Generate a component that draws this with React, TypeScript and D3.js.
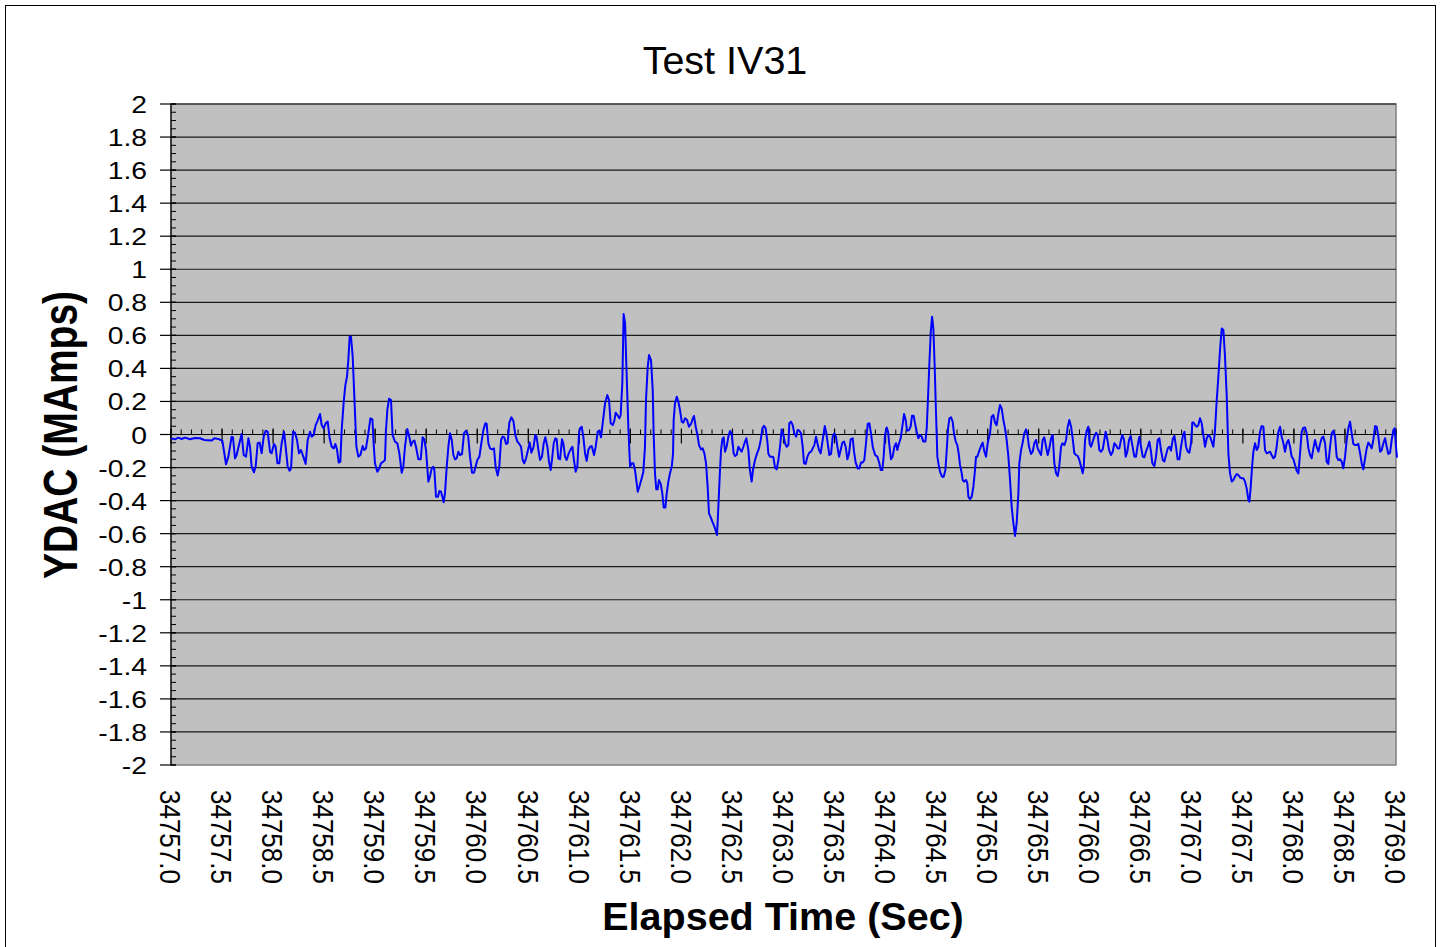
import React from 'react';
import * as d3 from 'd3';

const TITLE = 'Test IV31';
const X_TITLE = 'Elapsed Time (Sec)';
const Y_TITLE = 'YDAC (MAmps)';

const TIME_BASE = 34757;
const X_TICKS = [34757.0, 34757.5, 34758.0, 34758.5, 34759.0, 34759.5, 34760.0, 34760.5, 34761.0, 34761.5, 34762.0, 34762.5, 34763.0, 34763.5, 34764.0, 34764.5, 34765.0, 34765.5, 34766.0, 34766.5, 34767.0, 34767.5, 34768.0, 34768.5, 34769.0];
const Y_TICKS = [2, 1.8, 1.6, 1.4, 1.2, 1, 0.8, 0.6, 0.4, 0.2, 0, -0.2, -0.4, -0.6, -0.8, -1, -1.2, -1.4, -1.6, -1.8, -2];

// elapsed time offset from 34757 s
const ELAPSED = [
  0.000,0.039,0.072,0.104,0.137,0.186,0.235,0.284,0.327,0.398,
  0.425,0.464,0.490,0.503,0.539,0.562,0.594,0.607,0.627,0.643,
  0.666,0.692,0.712,0.735,0.758,0.774,0.790,0.813,0.829,0.849,
  0.869,0.888,0.908,0.927,0.947,0.970,0.986,1.009,1.025,1.042,
  1.061,1.084,1.107,1.123,1.143,1.162,1.176,1.195,1.215,1.234,
  1.254,1.274,1.296,1.319,1.339,1.362,1.378,1.398,1.417,1.437,
  1.460,1.476,1.496,1.515,1.535,1.554,1.574,1.594,1.610,1.626,
  1.643,1.659,1.672,1.692,1.708,1.724,1.737,1.750,1.763,1.780,
  1.796,1.816,1.835,1.855,1.878,1.894,1.910,1.933,1.953,1.973,
  1.985,1.998,2.021,2.041,2.057,2.080,2.096,2.106,2.119,2.136,
  2.155,2.171,2.194,2.217,2.237,2.260,2.276,2.292,2.315,2.335,
  2.351,2.367,2.384,2.400,2.423,2.446,2.465,2.481,2.498,2.521,
  2.537,2.554,2.570,2.580,2.596,2.616,2.629,2.645,2.658,2.671,
  2.684,2.701,2.717,2.733,2.750,2.766,2.782,2.798,2.815,2.831,
  2.851,2.870,2.890,2.910,2.929,2.949,2.968,2.988,3.001,3.021,
  3.040,3.060,3.079,3.092,3.109,3.125,3.144,3.164,3.180,3.200,
  3.216,3.233,3.249,3.265,3.282,3.298,3.314,3.334,3.354,3.373,
  3.393,3.412,3.429,3.445,3.461,3.478,3.497,3.514,3.530,3.550,
  3.569,3.582,3.598,3.615,3.634,3.651,3.667,3.687,3.703,3.719,
  3.732,3.749,3.765,3.778,3.794,3.811,3.830,3.843,3.860,3.876,
  3.896,3.915,3.932,3.945,3.964,3.981,3.997,4.007,4.023,4.039,
  4.056,4.072,4.088,4.105,4.121,4.144,4.160,4.180,4.196,4.212,
  4.225,4.252,4.274,4.291,4.307,4.327,4.343,4.356,4.372,4.392,
  4.405,4.421,4.434,4.448,4.461,4.480,4.497,4.513,4.529,4.545,
  4.562,4.572,4.588,4.611,4.627,4.643,4.653,4.670,4.683,4.702,
  4.719,4.728,4.741,4.754,4.767,4.780,4.797,4.813,4.826,4.843,
  4.856,4.872,4.888,4.905,4.918,4.924,4.937,4.954,4.970,4.986,
  5.003,5.019,5.035,5.055,5.074,5.094,5.107,5.123,5.140,5.159,
  5.172,5.192,5.208,5.225,5.241,5.257,5.270,5.287,5.303,5.323,
  5.349,5.362,5.375,5.388,5.401,5.414,5.427,5.443,5.460,5.476,
  5.492,5.512,5.525,5.541,5.558,5.574,5.590,5.607,5.623,5.636,
  5.656,5.669,5.688,5.701,5.721,5.741,5.760,5.777,5.793,5.809,
  5.825,5.842,5.852,5.868,5.891,5.901,5.917,5.933,5.950,5.966,
  5.982,5.999,6.015,6.031,6.048,6.057,6.074,6.090,6.106,6.123,
  6.139,6.155,6.172,6.188,6.201,6.217,6.234,6.253,6.270,6.286,
  6.302,6.319,6.332,6.348,6.364,6.384,6.404,6.420,6.433,6.449,
  6.466,6.482,6.498,6.514,6.528,6.544,6.560,6.577,6.593,6.609,
  6.626,6.642,6.658,6.678,6.691,6.707,6.727,6.743,6.759,6.776,
  6.792,6.808,6.825,6.841,6.857,6.874,6.897,6.919,6.939,6.952,
  6.968,6.981,6.994,7.011,7.024,7.037,7.053,7.069,7.086,7.102,
  7.115,7.132,7.148,7.164,7.181,7.197,7.210,7.230,7.246,7.259,
  7.275,7.288,7.305,7.321,7.337,7.354,7.370,7.390,7.403,7.416,
  7.429,7.442,7.455,7.468,7.481,7.494,7.507,7.520,7.533,7.553,
  7.569,7.586,7.599,7.612,7.625,7.641,7.657,7.670,7.687,7.703,
  7.716,7.729,7.746,7.755,7.768,7.788,7.801,7.811,7.827,7.844,
  7.860,7.876,7.886,7.899,7.915,7.932,7.951,7.968,7.984,8.000,
  8.023,8.039,8.056,8.072,8.088,8.105,8.121,8.137,8.154,8.170,
  8.186,8.203,8.219,8.235,8.252,8.268,8.284,8.301,8.310,8.327,
  8.343,8.359,8.376,8.389,8.405,8.425,8.441,8.457,8.474,8.490,
  8.506,8.523,8.539,8.555,8.572,8.588,8.604,8.621,8.637,8.653,
  8.670,8.686,8.699,8.719,8.732,8.751,8.768,8.784,8.800,8.817,
  8.833,8.849,8.866,8.882,8.898,8.915,8.931,8.941,8.954,8.970,
  8.986,8.999,9.013,9.029,9.045,9.062,9.078,9.094,9.110,9.127,
  9.140,9.156,9.173,9.189,9.208,9.225,9.241,9.257,9.274,9.290,
  9.306,9.319,9.336,9.352,9.368,9.385,9.401,9.417,9.437,9.453,
  9.470,9.486,9.502,9.519,9.535,9.551,9.568,9.584,9.600,9.613,
  9.633,9.649,9.666,9.682,9.698,9.715,9.731,9.747,9.764,9.780,
  9.796,9.813,9.829,9.845,9.861,9.878,9.894,9.911,9.927,9.943,
  9.960,9.976,9.992,10.005,10.018,10.031,10.048,10.064,10.080,10.097,
  10.113,10.129,10.146,10.162,10.178,10.195,10.211,10.227,10.244,10.260,
  10.276,10.293,10.309,10.325,10.342,10.358,10.374,10.391,10.407,10.423,
  10.440,10.456,10.472,10.489,10.505,10.521,10.537,10.554,10.564,10.577,
  10.590,10.603,10.619,10.636,10.652,10.668,10.684,10.701,10.717,10.733,
  10.750,10.766,10.782,10.799,10.815,10.831,10.848,10.864,10.880,10.897,
  10.913,10.929,10.946,10.962,10.978,10.995,11.011,11.027,11.044,11.060,
  11.076,11.093,11.109,11.125,11.142,11.158,11.174,11.191,11.207,11.223,
  11.240,11.256,11.272,11.288,11.305,11.321,11.337,11.354,11.370,11.386,
  11.403,11.419,11.435,11.452,11.468,11.484,11.501,11.517,11.533,11.550,
  11.566,11.582,11.599,11.615,11.631,11.648,11.664,11.680,11.697,11.713,
  11.729,11.746,11.762,11.778,11.795,11.811,11.827,11.844,11.860,11.876,
  11.893,11.909,11.925,11.942,11.958,11.974,11.987,12.000,12.010,
];

const YDAC = [
  -0.023,-0.029,-0.019,-0.027,-0.019,-0.029,-0.021,-0.023,-0.033,-0.037,
  -0.023,-0.027,-0.033,-0.037,-0.180,-0.134,-0.013,-0.017,-0.144,-0.124,
  -0.064,0.003,-0.124,-0.134,-0.023,-0.074,-0.195,-0.229,-0.195,-0.053,
  -0.049,-0.114,-0.013,0.023,0.017,-0.104,-0.114,-0.057,-0.074,-0.174,
  -0.174,-0.053,0.017,-0.074,-0.195,-0.219,-0.205,0.017,0.011,-0.033,
  -0.114,-0.094,-0.134,-0.178,-0.033,0.017,-0.013,-0.003,0.057,0.084,
  0.124,0.057,0.037,0.068,0.078,-0.023,-0.074,-0.084,-0.057,-0.090,
  -0.170,-0.164,0.027,0.199,0.299,0.350,0.450,0.592,0.592,0.471,
  0.229,-0.074,-0.134,-0.124,-0.070,-0.094,-0.084,0.007,0.098,0.092,
  -0.053,-0.174,-0.225,-0.205,-0.174,-0.164,-0.154,0.027,0.148,0.217,
  0.209,-0.003,-0.043,-0.053,-0.114,-0.231,-0.195,-0.074,0.033,-0.017,
  -0.068,-0.043,-0.037,-0.074,-0.150,-0.150,-0.017,-0.029,-0.094,-0.285,
  -0.254,-0.205,-0.195,-0.215,-0.376,-0.376,-0.342,-0.346,-0.376,-0.410,
  -0.356,-0.195,-0.074,0.007,-0.033,-0.124,-0.150,-0.144,-0.104,-0.124,
  -0.118,0.007,0.023,-0.003,-0.134,-0.231,-0.231,-0.184,-0.154,-0.134,
  -0.053,0.027,0.068,0.064,-0.053,-0.084,-0.090,-0.084,-0.195,-0.249,
  -0.195,-0.033,-0.013,-0.017,-0.057,-0.053,0.072,0.104,0.082,-0.003,
  -0.043,-0.057,-0.074,-0.154,-0.174,-0.144,-0.094,-0.049,-0.110,-0.080,
  -0.003,-0.017,-0.090,-0.154,-0.134,-0.053,-0.017,-0.074,-0.164,-0.215,
  -0.154,-0.053,-0.023,-0.029,-0.144,-0.150,-0.029,-0.053,-0.134,-0.154,
  -0.114,-0.090,-0.074,-0.144,-0.225,-0.191,0.007,0.037,0.047,-0.013,
  -0.114,-0.160,-0.094,-0.074,-0.070,-0.124,-0.074,0.017,0.023,-0.017,
  0.047,0.189,0.239,0.209,0.068,0.057,0.084,0.132,0.118,0.098,
  0.118,0.309,0.729,0.672,0.410,0.047,-0.195,-0.174,-0.174,-0.215,
  -0.295,-0.346,-0.316,-0.265,-0.225,-0.074,0.209,0.410,0.481,0.450,
  0.269,0.007,-0.235,-0.332,-0.332,-0.276,-0.299,-0.356,-0.441,-0.441,
  -0.356,-0.285,-0.235,-0.195,-0.114,0.088,0.189,0.229,0.199,0.148,
  0.078,0.072,0.098,0.088,0.047,0.064,0.088,0.112,0.047,-0.009,
  -0.064,-0.090,-0.084,-0.114,-0.174,-0.316,-0.477,-0.501,-0.527,-0.557,
  -0.608,-0.436,-0.255,-0.094,-0.029,-0.017,-0.104,-0.074,-0.013,0.021,
  0.007,-0.114,-0.130,-0.124,-0.074,-0.090,-0.104,-0.074,-0.043,-0.023,
  -0.094,-0.205,-0.285,-0.215,-0.154,-0.114,-0.084,-0.033,0.037,0.053,
  0.037,-0.043,-0.118,-0.134,-0.134,-0.138,-0.201,-0.211,-0.154,-0.074,
  0.031,-0.003,-0.053,-0.074,-0.064,0.068,0.078,0.057,0.007,-0.013,
  0.027,0.023,0.007,-0.074,-0.174,-0.178,-0.134,-0.110,-0.104,-0.084,
  -0.064,-0.013,-0.053,-0.094,-0.114,-0.033,0.051,0.007,-0.053,-0.124,
  -0.118,-0.013,0.007,-0.013,-0.074,-0.134,-0.094,-0.049,-0.043,-0.074,
  -0.150,-0.114,-0.029,-0.023,-0.104,-0.170,-0.205,-0.205,-0.170,-0.170,
  -0.154,-0.053,0.064,0.068,0.007,-0.074,-0.124,-0.134,-0.174,-0.215,
  -0.215,-0.134,-0.003,0.043,0.017,-0.064,-0.150,-0.134,-0.074,-0.053,
  -0.094,-0.053,-0.023,0.047,0.124,0.088,0.023,0.027,0.051,0.114,
  0.114,0.068,0.017,-0.023,-0.003,-0.013,-0.043,-0.043,0.037,0.229,
  0.430,0.612,0.713,0.642,0.410,0.130,-0.134,-0.184,-0.225,-0.255,
  -0.255,-0.215,-0.094,0.037,0.098,0.104,0.078,0.007,-0.043,-0.064,
  -0.114,-0.184,-0.235,-0.275,-0.285,-0.275,-0.295,-0.376,-0.392,-0.376,
  -0.316,-0.215,-0.134,-0.134,-0.104,-0.074,-0.049,-0.104,-0.134,-0.053,
  0.007,0.108,0.118,0.072,0.057,0.128,0.178,0.158,0.088,0.037,
  -0.033,-0.134,-0.275,-0.436,-0.537,-0.614,-0.537,-0.356,-0.174,-0.094,
  -0.049,0.007,0.031,0.003,-0.074,-0.118,-0.104,-0.053,-0.033,-0.084,
  -0.104,-0.124,-0.033,-0.017,-0.074,-0.124,-0.084,-0.023,-0.003,-0.174,
  -0.235,-0.251,-0.205,-0.074,-0.053,-0.064,-0.033,0.047,0.088,0.047,
  -0.023,-0.114,-0.124,-0.130,-0.154,-0.195,-0.235,-0.195,-0.033,0.023,
  0.047,-0.057,-0.074,-0.043,-0.013,0.011,-0.003,-0.094,-0.104,-0.090,
  -0.043,0.017,-0.033,-0.094,-0.124,-0.104,-0.053,-0.064,-0.084,-0.084,
  -0.033,-0.003,-0.033,-0.134,-0.104,-0.033,-0.009,-0.064,-0.134,-0.134,
  -0.064,-0.013,-0.074,-0.134,-0.138,-0.104,-0.074,-0.043,-0.104,-0.174,
  -0.191,-0.134,-0.033,-0.023,-0.094,-0.154,-0.164,-0.124,-0.084,-0.074,
  -0.098,-0.029,-0.009,-0.074,-0.150,-0.150,-0.074,-0.013,0.017,-0.074,
  -0.104,-0.110,-0.053,0.073,0.072,0.057,0.047,0.057,0.098,0.068,
  -0.003,-0.074,-0.023,-0.003,-0.013,-0.043,-0.074,0.027,0.209,0.350,
  0.511,0.642,0.632,0.471,0.229,-0.114,-0.235,-0.285,-0.275,-0.255,
  -0.239,-0.245,-0.259,-0.265,-0.265,-0.285,-0.326,-0.396,-0.406,-0.316,
  -0.195,-0.104,-0.053,-0.094,-0.074,0.017,0.051,0.047,-0.094,-0.114,
  -0.110,-0.104,-0.124,-0.144,-0.134,-0.074,0.017,0.047,-0.013,-0.053,
  -0.104,-0.053,-0.033,-0.074,-0.134,-0.150,-0.184,-0.219,-0.235,-0.114,
  0.017,0.041,0.043,0.007,-0.084,-0.124,-0.144,-0.084,-0.033,-0.074,
  -0.104,-0.057,-0.023,-0.013,-0.053,-0.164,-0.178,-0.074,0.007,0.023,
  -0.013,-0.134,-0.154,-0.150,-0.164,-0.205,-0.134,-0.033,0.037,0.078,
  0.007,-0.057,-0.064,-0.064,-0.057,-0.114,-0.174,-0.211,-0.144,-0.084,
  -0.049,-0.064,-0.084,-0.033,0.051,0.047,-0.013,-0.104,-0.094,-0.053,
  -0.023,-0.074,-0.118,-0.110,-0.033,0.027,0.037,-0.074,-0.140,
];

const FONT = '"Liberation Sans", Arial, Helvetica, sans-serif';

export default function App() {
  const W = 1442, H = 947;
  const L = 171, R = 1396, T = 104, B = 765;

  const x = d3.scaleLinear().domain([X_TICKS[0], X_TICKS[X_TICKS.length - 1]]).range([L, R]);
  const y = d3.scaleLinear().domain([-2, 2]).range([B, T]);

  const n = Math.min(ELAPSED.length, YDAC.length);
  const pts: [number, number][] = [];
  for (let i = 0; i < n; i++) pts.push([TIME_BASE + ELAPSED[i], YDAC[i]]);
  const line = d3.line<[number, number]>().x(d => x(d[0])).y(d => y(d[1]));

  const x0 = y(0);
  const xMinor = d3.range(X_TICKS[0], X_TICKS[X_TICKS.length - 1] + 1e-6, 0.1);
  const yMinor = d3.range(-2, 2 + 1e-6, 0.05);
  const fmtX = d3.format('.1f');
  const fmtY = (v: number) => String(Math.round(v * 10) / 10);

  return (
    <svg width={W} height={H} style={{ position: 'absolute', left: 0, top: 0, background: '#fff' }} fontFamily={FONT}>
      <rect x={0} y={0} width={W} height={H} fill="#fff" />
      <rect x={5.5} y={5.5} width={1430} height={950} fill="none" stroke="#000" strokeWidth={1} />
      <text x={725} y={74} textAnchor="middle" fontSize={39.5} fill="#000">{TITLE}</text>

      {/* plot area */}
      <rect x={L} y={T} width={R - L} height={B - T} fill="#C0C0C0" stroke="#808080" strokeWidth={1.5} />
      {Y_TICKS.filter(v => v > -2).map(v => (
        <line key={'g' + v} x1={L} x2={R} y1={y(v)} y2={y(v)} stroke="#1a1a1a" strokeWidth={1.2} />
      ))}

      {/* y axis */}
      <line x1={L} x2={L} y1={T} y2={B} stroke="#000" strokeWidth={1.2} />
      {yMinor.map((v, i) => (
        <line key={'ym' + i} x1={L} x2={L + 5} y1={y(v)} y2={y(v)} stroke="#000" strokeWidth={1} />
      ))}
      {Y_TICKS.map(v => (
        <line key={'yt' + v} x1={L - 11} x2={L + 5} y1={y(v)} y2={y(v)} stroke="#000" strokeWidth={1.2} />
      ))}
      {Y_TICKS.map(v => (
        <text key={'yl' + v} transform={`translate(147,${y(v) + 9}) scale(1.18,1)`} textAnchor="end" fontSize={24} fill="#000">{fmtY(v)}</text>
      ))}

      {/* x axis at zero */}
      <line x1={L} x2={R} y1={x0} y2={x0} stroke="#000" strokeWidth={1.2} />
      {xMinor.map((v, i) => (
        <line key={'xm' + i} x1={x(v)} x2={x(v)} y1={x0 - 5} y2={x0} stroke="#000" strokeWidth={1} />
      ))}
      {X_TICKS.map(v => (
        <line key={'xt' + v} x1={x(v)} x2={x(v)} y1={x0 - 6} y2={x0 + 9} stroke="#000" strokeWidth={1.2} />
      ))}
      {X_TICKS.map(v => (
        <text key={'xl' + v} transform={`translate(${x(v)},790) scale(1.15,1) rotate(90)`} dy="0.36em" textAnchor="start" fontSize={26} fill="#000">{fmtX(v)}</text>
      ))}

      {/* series */}
      <path d={line(pts) || ''} fill="none" stroke="#0000FF" strokeWidth={2} strokeLinejoin="round" />

      {/* axis titles */}
      <text x={783} y={930} textAnchor="middle" fontSize={39.5} fontWeight="bold" fill="#000">{X_TITLE}</text>
      <text transform="translate(77,435) scale(1.22,1) rotate(-90)" textAnchor="middle" fontSize={39} fontWeight="bold" fill="#000">{Y_TITLE}</text>
    </svg>
  );
}
